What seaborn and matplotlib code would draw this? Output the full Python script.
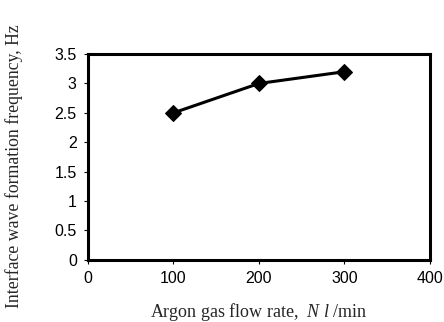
import matplotlib
matplotlib.use('Agg')
import matplotlib.pyplot as plt
import seaborn as sns
import pandas as pd

# data
flow_rate = [100, 200, 300]
frequency = [2.5, 3.0, 3.2]
x_ticks = [0, 100, 200, 300, 400]
y_ticks = [0, 0.5, 1, 1.5, 2, 2.5, 3, 3.5]

df = pd.DataFrame({'flow': flow_rate, 'freq': frequency})

sns.set_style('white')
plt.rcParams['font.family'] = ['Liberation Sans', 'DejaVu Sans']
plt.rcParams['mathtext.fontset'] = 'custom'
plt.rcParams['mathtext.rm'] = 'Liberation Serif'
plt.rcParams['mathtext.it'] = 'Liberation Serif:italic'

fig = plt.figure(figsize=(4.44, 3.22), dpi=100)
ax = fig.add_axes([0.198, 0.193, 0.770, 0.639])

sns.lineplot(data=df, x='flow', y='freq', ax=ax, color='black', linewidth=2.2,
             marker='D', markersize=8, markeredgecolor='black')

ax.set_xlim(0, 400)
ax.set_ylim(0, 3.5)
ax.set_xticks(x_ticks)
ax.set_yticks(y_ticks)
ax.set_xticklabels([str(t) for t in x_ticks])
ax.set_yticklabels(['0', '0.5', '1', '1.5', '2', '2.5', '3', '3.5'])
ax.tick_params(axis='both', direction='out', length=3, width=0.8, labelsize=11.5,
               colors='black', bottom=True, left=True, pad=5)

for s in ax.spines.values():
    s.set_linewidth(2.2)
    s.set_color('black')

serif = ['Liberation Serif', 'DejaVu Serif']
ax.set_xlabel('Argon gas flow rate,  $\\it{N\\ l}$ /min', fontsize=13, family=serif)
ax.set_ylabel('Interface wave formation frequency, Hz', fontsize=12.8, family=serif)
ax.xaxis.set_label_coords(0.5, -0.2)
ax.yaxis.set_label_coords(-0.19, 0.455)

fig.savefig('out.png', dpi=100)
